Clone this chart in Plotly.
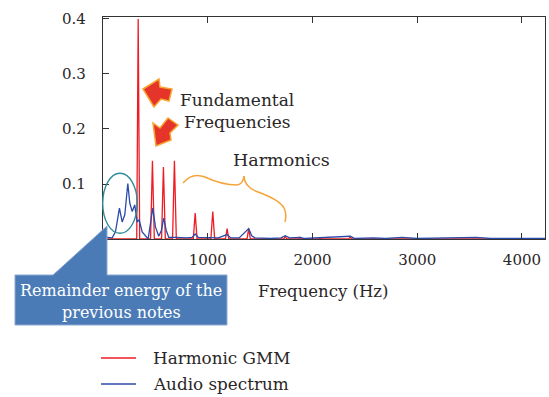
import plotly.graph_objects as go

# ---- data ----
gmm_freq = [0, 322, 336, 350, 454, 472, 490, 559, 577, 595, 664, 682, 700,
            862, 880, 898, 1030, 1048, 1066, 1169, 1185, 1201, 1375, 1391, 1407,
            1726, 1740, 1754, 1868, 1880, 1892, 2063, 2075, 2087, 2346, 2360, 2374, 4220]
gmm_val = [0, 0, 0.40, 0, 0, 0.142, 0, 0, 0.131, 0, 0, 0.142, 0,
           0, 0.047, 0, 0, 0.050, 0, 0, 0.019, 0, 0, 0.019, 0,
           0, 0.005, 0, 0, 0.003, 0, 0, 0.002, 0, 0, 0.004, 0, 0]

audio_freq = [0, 43, 88, 119, 157, 183, 208, 237, 256, 279, 303, 326, 345, 374, 406, 431,
              453, 475, 501, 532, 558, 580, 603, 628, 700, 800, 850, 880, 910, 1000, 1100,
              1185, 1220, 1300, 1391, 1420, 1450, 1600, 1700, 1740, 1780, 1880, 1920,
              2360, 2400, 2580, 2700, 2855, 3000, 3564, 3700, 4220]
audio_val = [0.004, 0.003, 0.002, 0.013, 0.056, 0.031, 0.044, 0.101, 0.065, 0.050, 0.062, 0.031,
             0.035, 0.013, 0.005, 0.000, 0.028, 0.056, 0.022, 0.005, 0.016, 0.038, 0.016, 0.003,
             0.003, 0.002, 0.003, 0.009, 0.003, 0.002, 0.002, 0.008, 0.002, 0.002, 0.019, 0.006,
             0.002, 0.001, 0.002, 0.006, 0.002, 0.003, 0.001, 0.005, 0.001, 0.002, 0.001,
             0.003, 0.001, 0.003, 0.001, 0.001]

x_ticks = [1000, 2000, 3000, 4000]
y_ticks = [0.1, 0.2, 0.3, 0.4]
series_names = ["Harmonic GMM", "Audio spectrum"]
series_colors = ["#ee1c25", "#2b4aa8"]

W, H = 549, 397
ML, MR, MT, MB = 103, 4, 17, 158
PW, PH = W - ML - MR, H - MT - MB
FONT = "DejaVu Serif"
TXT = "#2a2627"


def px(x):
    return (x - ML) / PW


def py(y):
    return (H - MB - y) / PH


def path(points, close=True):
    s = "M" + " L".join(f"{px(a):.5f},{py(b):.5f}" for a, b in points)
    return s + (" Z" if close else "")


fig = go.Figure()
fig.add_trace(go.Scatter(x=gmm_freq, y=gmm_val, mode="lines", name=series_names[0],
                         line=dict(color=series_colors[0], width=1.3)))
fig.add_trace(go.Scatter(x=audio_freq, y=audio_val, mode="lines", name=series_names[1],
                         line=dict(color=series_colors[1], width=1.3)))

shapes = []
# red arrows
arrow_style = dict(type="path", xref="paper", yref="paper", fillcolor="#e5352b",
                   line=dict(color="#f7a531", width=1.5), layer="above")
shapes.append(dict(path=path([(143, 89), (159, 79), (160, 87), (172, 89), (169, 101),
                              (161, 99), (154, 107)]), **arrow_style))
shapes.append(dict(path=path([(156, 146), (153, 123), (160, 128), (168, 118), (178, 125),
                              (170, 133), (171, 140)]), **arrow_style))


def bez(pts):
    s = f"M{px(pts[0][0]):.5f},{py(pts[0][1]):.5f}"
    for i in range(1, len(pts), 2):
        c, e = pts[i], pts[i + 1]
        s += f" Q{px(c[0]):.5f},{py(c[1]):.5f} {px(e[0]):.5f},{py(e[1]):.5f}"
    return s


# harmonics brace
brace = dict(type="path", xref="paper", yref="paper", line=dict(color="#f5a43a", width=1.5),
             layer="above")
shapes.append(dict(path=bez([(183, 183), (192, 172), (205, 177), (222, 185), (237, 185),
                             (243, 184), (244, 176)]), **brace))
shapes.append(dict(path=bez([(244, 176), (244, 187), (258, 192), (280, 200), (284, 208),
                             (287, 214), (285, 222)]), **brace))
# ellipse
shapes.append(dict(type="circle", xref="paper", yref="paper", x0=px(102.7), x1=px(137.3),
                   y0=py(233.3), y1=py(173.3), line=dict(color="#2e8b99", width=1.4),
                   layer="above"))
# callout box
shapes.append(dict(type="path", xref="paper", yref="paper",
                   path=path([(15, 275), (53, 275), (107, 226), (107, 275), (227, 275),
                              (227, 325), (15, 325)]),
                   fillcolor="#4a7bb7", line=dict(color="#8eaad3", width=1), layer="above"))

ann = []


def text(t, x, y, size, color=TXT, anchor="center"):
    ann.append(dict(text=t, xref="paper", yref="paper", x=px(x), y=py(y), showarrow=False,
                    xanchor=anchor, yanchor="middle",
                    font=dict(family=FONT, size=size, color=color)))


text("Fundamental", 237, 100, 17)
text("Frequencies", 237, 122, 17)
text("Harmonics", 281, 160, 17.5)
text("Remainder energy of the", 121, 290, 16, "white")
text("previous notes", 121, 312, 16, "white")
text("Frequency (Hz)", 323, 291, 16.5)

# legend (drawn below the chart)
for i, (name, col) in enumerate(zip(series_names, series_colors)):
    yy = 358 + 26 * i
    shapes.append(dict(type="line", xref="paper", yref="paper", x0=px(101), x1=px(136),
                       y0=py(yy), y1=py(yy), line=dict(color=col, width=1.3)))
    text(name, 151, yy, 16.8, anchor="left")

fig.update_layout(
    width=W, height=H, margin=dict(l=ML, r=MR, t=MT, b=MB, pad=0),
    plot_bgcolor="white", paper_bgcolor="white",
    font=dict(family=FONT, size=15, color=TXT),
    showlegend=False,
    shapes=shapes, annotations=ann,
)
fig.update_xaxes(range=[0, 4220], tickvals=x_ticks, ticks="inside", ticklen=6, tickwidth=1,
                 tickcolor="#333", showline=True, linecolor="#333", linewidth=1.2,
                 mirror="ticks", showgrid=False, zeroline=False, ticklabelstandoff=7,
                 tickfont=dict(family=FONT, size=15, color=TXT))
fig.update_yaxes(range=[0, 0.4036], tickvals=y_ticks, tickformat=".1f", ticks="inside",
                 ticklen=6, tickwidth=1, tickcolor="#333", showline=True, linecolor="#333",
                 linewidth=1.2, mirror=True, showgrid=False, zeroline=False,
                 ticklabelstandoff=13, tickfont=dict(family=FONT, size=15, color=TXT))

fig.write_html("out.html")
